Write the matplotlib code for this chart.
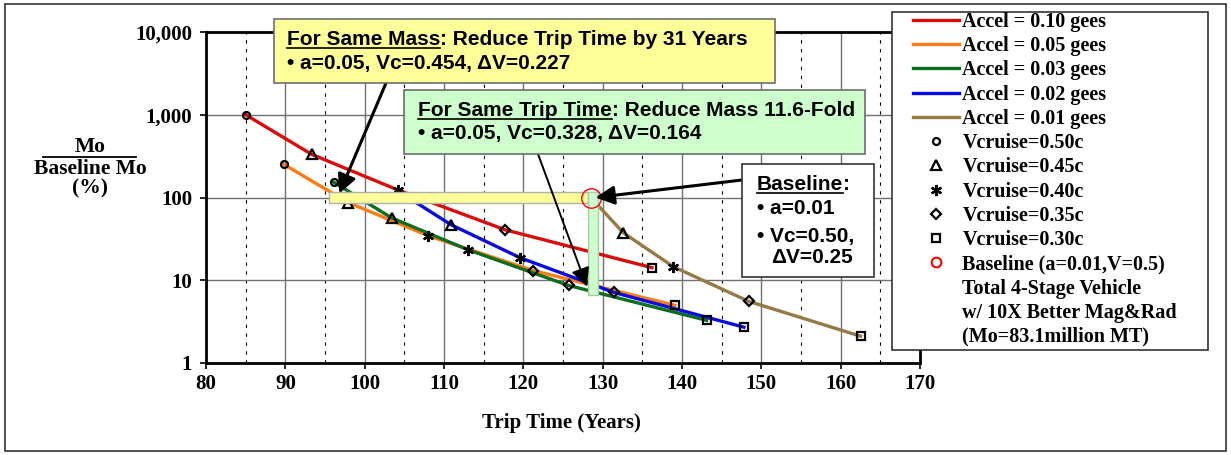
import matplotlib
matplotlib.use("Agg")
import matplotlib.pyplot as plt
from matplotlib.lines import Line2D
from matplotlib.patches import Rectangle
from matplotlib.ticker import FixedLocator, FuncFormatter, NullLocator

W, H = 1231, 455

# trip time (years) and Mo / baseline Mo (%) per acceleration,
# points ordered Vcruise = 0.50c, 0.45c, 0.40c, 0.35c, 0.30c
trip_010 = [85.0, 93.3, 104.2, 117.7, 136.2]
mass_010 = [1000, 333, 123, 40.7, 14.2]
trip_005 = [89.8, 97.9, 108.0, 121.2, 139.1]
mass_005 = [252, 87, 34.5, 13.1, 4.98]
trip_003 = [96.1, 103.4, 113.0, 125.7, 143.1]
mass_003 = [153, 56.7, 23.4, 8.65, 3.28]
trip_002 = [104.3, 110.9, 119.6, 131.4, 147.8]
mass_002 = [118, 46.8, 18.7, 7.13, 2.71]
trip_001 = [128.5, 132.6, 138.9, 148.4, 162.5]
mass_001 = [100, 37.5, 14.6, 5.56, 2.11]

accel_labels = ["Accel = 0.10 gees", "Accel = 0.05 gees", "Accel = 0.03 gees",
                "Accel = 0.02 gees", "Accel = 0.01 gees"]
vc_labels = ["Vcruise=0.50c", "Vcruise=0.45c", "Vcruise=0.40c",
             "Vcruise=0.35c", "Vcruise=0.30c"]
note_labels = ["Total 4-Stage Vehicle", "w/ 10X Better Mag&Rad",
               "(Mo=83.1million MT)"]

baseline_trip = 128.5
baseline_mass = 100
same_mass_span = (95.5, 128.2)      # years, at the baseline mass
same_time_span = (6.6, 100)         # %, at the baseline trip time
years_saved = 31
fold = 11.6

colors = ["#DD0A0A", "#FF7A12", "#0A6E1E", "#0A0AE6", "#957A45"]
vc_markers = [("o", 5), ("^", 7), ((6, 2, 0), 8), ("D", 5), ("s", 6)]

serif = dict(family="Liberation Serif", weight="bold")
sans = dict(family="Liberation Sans", weight="bold")


def fx(px):
    return px / W


def fy(py):
    return 1 - py / H


fig = plt.figure(figsize=(W / 100, H / 100), dpi=100)
fig.add_artist(Rectangle((fx(5), fy(451)), fx(1226) - fx(5), fy(4) - fy(451),
                         transform=fig.transFigure, fill=False,
                         edgecolor="#333333", lw=1.2))

ax = fig.add_axes([fx(206), fy(363), fx(920) - fx(206), fy(32) - fy(363)])
ax.set_yscale("log")
ax.set_xlim(80, 170)
ax.set_ylim(1, 10000)

ax.xaxis.set_major_locator(FixedLocator(range(80, 171, 10)))
ax.xaxis.set_minor_locator(FixedLocator(range(85, 170, 10)))
ax.yaxis.set_major_locator(FixedLocator([1, 10, 100, 1000, 10000]))
ax.yaxis.set_minor_locator(NullLocator())
ax.yaxis.set_major_formatter(FuncFormatter(lambda v, p: f"{v:,.0f}"))
ax.grid(which="major", axis="both", color="#707070", lw=1.0)
ax.grid(which="minor", axis="x", color="black", lw=0.8, linestyle=(0, (3, 5)))
ax.tick_params(which="major", direction="out", length=4, width=1.2, color="black")
ax.tick_params(which="minor", length=0)
ax.tick_params(axis="x", pad=4)
ax.tick_params(axis="y", pad=6)
for lab in ax.get_xticklabels() + ax.get_yticklabels():
    lab.set_fontproperties("Liberation Serif")
    lab.set_fontweight("bold")
    lab.set_fontsize(15)
for sp in ax.spines.values():
    sp.set_linewidth(2)
    sp.set_color("black")
ax.set_axisbelow(True)

series = [(trip_010, mass_010), (trip_005, mass_005), (trip_003, mass_003),
          (trip_002, mass_002), (trip_001, mass_001)]
for (trip, mass), c in zip(series, colors):
    ax.plot(trip, mass, color=c, lw=2.4, zorder=3)
    for t, m, (mk, ms) in zip(trip, mass, vc_markers):
        ax.plot(t, m, linestyle="none", marker=mk, ms=ms, mfc="none",
                mec="black", mew=1.6, zorder=4)

# highlight bars for "same mass" and "same trip time"
ax.add_patch(Rectangle((same_mass_span[0], baseline_mass * 10 ** -0.065),
                       same_mass_span[1] - same_mass_span[0],
                       baseline_mass * (10 ** 0.065 - 10 ** -0.065),
                       facecolor="#FFFF99", edgecolor="#B0B0B0", lw=1, zorder=5))
ax.add_patch(Rectangle((128.2, same_time_span[0]), 1.2,
                       same_time_span[1] * 10 ** 0.065 - same_time_span[0],
                       facecolor="#CCFFCC", edgecolor="#A8C8A8", lw=1, zorder=5))
ax.plot(baseline_trip, baseline_mass, "o", ms=14, mfc="none", mec="red",
        mew=1.0, zorder=6)

# axis titles
fig.text(fx(561), fy(423), "Trip Time (Years)", ha="center", va="center",
         fontsize=15, **serif)
fig.text(fx(90), fy(147), "Mo", ha="center", va="center", fontsize=15.5, **serif)
fig.add_artist(Line2D([fx(43), fx(136)], [fy(157), fy(157)],
                      transform=fig.transFigure, color="black", lw=1.3))
fig.text(fx(90), fy(169), "Baseline Mo", ha="center", va="center",
         fontsize=15.5, **serif)
fig.text(fx(90), fy(188), "(%)", ha="center", va="center", fontsize=15.5, **serif)

renderer = fig.canvas.get_renderer()


def text_run(x, y, parts, size=15):
    # parts: (string, underlined) drawn one after another on a baseline
    for s, ul in parts:
        t = fig.text(fx(x), fy(y), s, ha="left", va="baseline",
                     fontsize=size, zorder=8, **sans)
        bb = t.get_window_extent(renderer)
        if ul:
            fig.add_artist(Line2D([bb.x0 / W, bb.x1 / W],
                                  [(H - y - 2.5) / H] * 2,
                                  transform=fig.transFigure, color="black",
                                  lw=1.2, zorder=8))
        x = bb.x1


def note_box(x0, y0, x1, y1, face, edge):
    fig.add_artist(Rectangle((fx(x0), fy(y1)), fx(x1) - fx(x0), fy(y0) - fy(y1),
                             transform=fig.transFigure, facecolor=face,
                             edgecolor=edge, lw=1.2, zorder=7))


note_box(274, 19, 775, 83, "#FFFF99", "#6E6E6E")
text_run(287, 45, [("For Same Mass", True),
                   (f": Reduce Trip Time by {years_saved} Years", False)])
text_run(287, 69, [("\u2022 a=0.05, Vc=0.454, \u0394V=0.227", False)])

note_box(404, 90, 865, 154, "#CCFFCC", "#6E6E6E")
text_run(418, 116, [("For Same Trip Time", True),
                    (f": Reduce Mass {fold}-Fold", False)])
text_run(418, 139, [("\u2022 a=0.05, Vc=0.328, \u0394V=0.164", False)])

note_box(742, 164, 874, 277, "white", "#333333")
text_run(757, 190, [("Baseline", True), (":", False)])
text_run(757, 214, [("\u2022 a=0.01", False)])
text_run(757, 242, [("\u2022 Vc=0.50,", False)])
text_run(771, 263, [("\u0394V=0.25", False)])

# arrows from the notes to the curves
arrow = dict(arrowstyle="-|>", color="black", lw=2.2, mutation_scale=28,
             shrinkA=0, shrinkB=0)
ax.annotate("", xy=(96.8, 112), xycoords="data", xytext=(fx(386), fy(83)),
            textcoords="figure fraction", arrowprops=arrow, zorder=9)
ax.annotate("", xy=(128.0, 8.4), xycoords="data", xytext=(fx(538), fy(154)),
            textcoords="figure fraction",
            arrowprops=dict(arrow, lw=1.4), zorder=9)
ax.annotate("", xy=(129.1, 100), xycoords="data", xytext=(fx(742), fy(180)),
            textcoords="figure fraction", arrowprops=arrow, zorder=9)

# legend
fig.add_artist(Rectangle((fx(892), fy(350)), fx(1208) - fx(892), fy(12) - fy(350),
                         transform=fig.transFigure, facecolor="white",
                         edgecolor="#333333", lw=1.2, zorder=7))
handles = [Line2D([], [], color=c, lw=2.4) for c in colors]
handles += [Line2D([], [], linestyle="none", marker=mk, ms=ms, mfc="white",
                   mec="black", mew=1.6) for mk, ms in vc_markers]
handles.append(Line2D([], [], linestyle="none", marker="o", ms=7, mfc="none",
                      mec="red", mew=1.5))
handles += [Line2D([], [], color="none") for _ in note_labels]
labels = accel_labels + vc_labels + ["Baseline (a=0.01,V=0.5)"] + note_labels
leg = fig.legend(handles, labels, loc="upper left",
                 bbox_to_anchor=(fx(913), fy(12)), frameon=False,
                 prop=dict(family="Liberation Serif", weight="bold", size=14.5),
                 handlelength=2.3, handletextpad=0.15, labelspacing=0.21,
                 borderpad=0, borderaxespad=0)
leg.set_zorder(8)

fig.savefig("out.png", dpi=100)
